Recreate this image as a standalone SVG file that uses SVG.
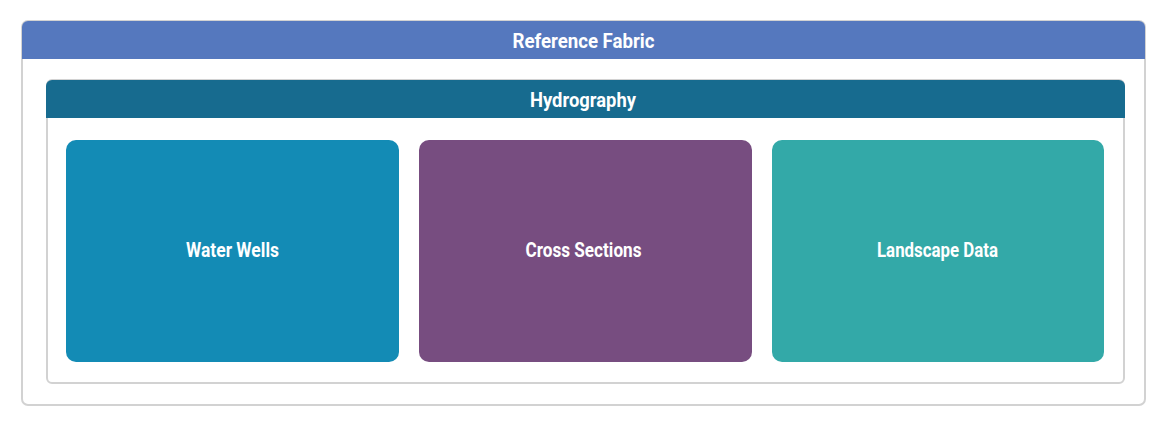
<svg xmlns="http://www.w3.org/2000/svg" width="1167" height="427" viewBox="0 0 1167 427">
  <style>
    .frame { fill: #ffffff; stroke: #d2d2d2; stroke-width: 2; }
    .title, .card-label { font-family: "Roboto", "Liberation Sans", sans-serif; font-weight: bold; font-size: 20px; fill: #ffffff; text-anchor: middle; }
  </style>
  <rect width="1167" height="427" fill="#ffffff"/>

  <!-- Outer container -->
  <g id="reference-fabric">
    <rect class="frame" x="22" y="21" width="1123" height="384" rx="6"/>
    <path d="M22 27 a6 6 0 0 1 6 -6 H1139 a6 6 0 0 1 6 6 V59 H22 Z" fill="#5578be"/>
    <text class="title" x="583.5" y="48" textLength="142" lengthAdjust="spacingAndGlyphs">Reference Fabric</text>
  </g>

  <!-- Inner container -->
  <g id="hydrography">
    <rect class="frame" x="47" y="80" width="1077" height="303" rx="5"/>
    <path d="M46 86 a6 6 0 0 1 6 -6 H1119 a6 6 0 0 1 6 6 V118 H46 Z" fill="#176b8f"/>
    <text class="title" x="583" y="107" textLength="106" lengthAdjust="spacingAndGlyphs">Hydrography</text>
  </g>

  <g id="water-wells">
    <rect x="66" y="140" width="333" height="222" rx="10" fill="#138bb5"/>
    <text class="card-label" x="232.5" y="257" textLength="93" lengthAdjust="spacingAndGlyphs">Water Wells</text>
  </g>

  <g id="cross-sections">
    <rect x="419" y="140" width="333" height="222" rx="10" fill="#774d80"/>
    <text class="card-label" x="583.5" y="257" textLength="116" lengthAdjust="spacingAndGlyphs">Cross Sections</text>
  </g>

  <g id="landscape-data">
    <rect x="772" y="140" width="332" height="222" rx="10" fill="#33a9a8"/>
    <text class="card-label" x="937.5" y="257" textLength="121" lengthAdjust="spacingAndGlyphs">Landscape Data</text>
  </g>

  <g id="connectors"/>
</svg>
